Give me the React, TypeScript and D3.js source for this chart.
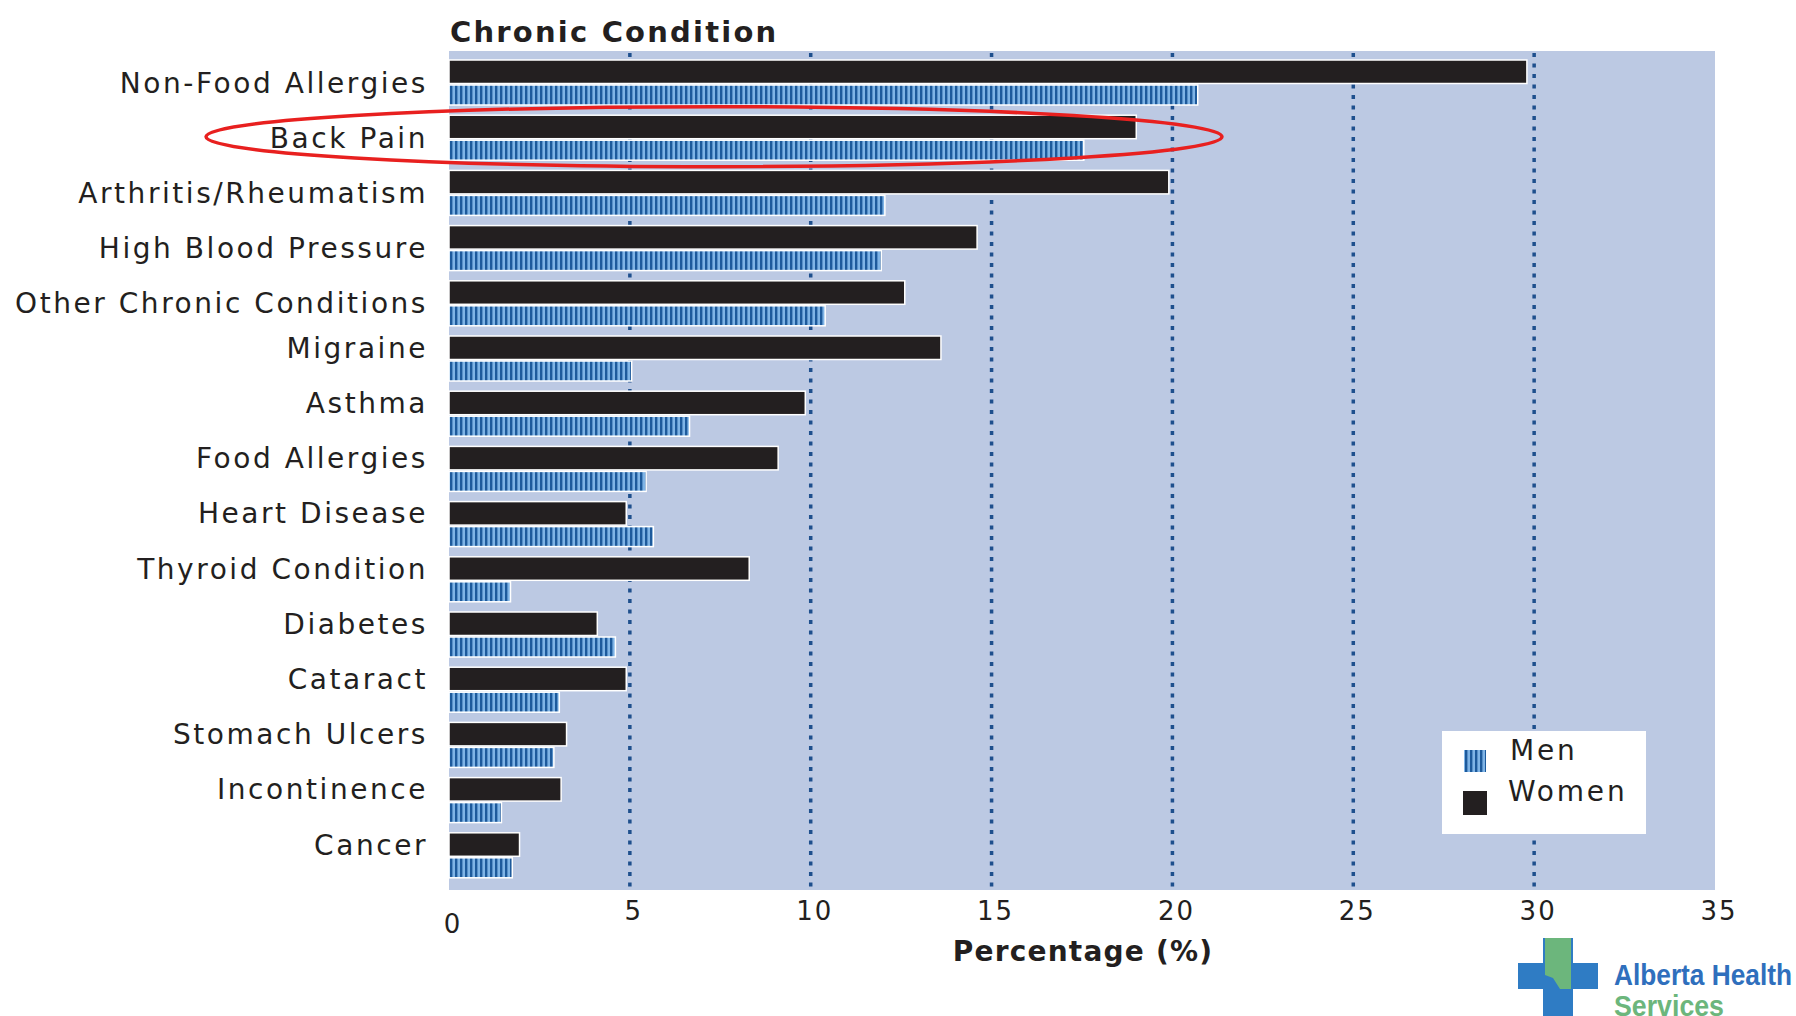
import React from "react";
import * as d3 from "d3";

const categories = [
  "Non-Food Allergies",
  "Back Pain",
  "Arthritis/Rheumatism",
  "High Blood Pressure",
  "Other Chronic Conditions",
  "Migraine",
  "Asthma",
  "Food Allergies",
  "Heart Disease",
  "Thyroid Condition",
  "Diabetes",
  "Cataract",
  "Stomach Ulcers",
  "Incontinence",
  "Cancer",
];
const women = [29.8, 19.0, 19.9, 14.6, 12.6, 13.6, 9.85, 9.1, 4.9, 8.3, 4.1, 4.9, 3.25, 3.1, 1.95];
const men = [20.7, 17.55, 12.05, 11.95, 10.4, 5.05, 6.65, 5.45, 5.65, 1.7, 4.6, 3.05, 2.9, 1.45, 1.75];
const xTicks = [0, 5, 10, 15, 20, 25, 30, 35];
const gridValues = [5, 10, 15, 20, 25, 30];
const highlighted = "Back Pain";

const W = 1796;
const H = 1016;
const plotL = 449;
const plotR = 1715;
const plotT = 51;
const plotB = 890;
const rowStep = 55.2;
const firstRow = 60;

const FONT = "'DejaVu Sans', 'Open Sans', sans-serif";

export default function App() {
  const x = d3.scaleLinear().domain([0, 35]).range([plotL, plotR]);
  const y = d3
    .scaleBand<string>()
    .domain(categories)
    .range([firstRow, firstRow + rowStep * categories.length])
    .padding(0);

  const blackH = 23.5;
  const blueOff = 25;
  const blueH = 20;

  const hy = (y(highlighted) as number) + (blueOff + blueH) / 2;

  return (
    <svg
      width={W}
      height={H}
      viewBox={`0 0 ${W} ${H}`}
      style={{ position: "fixed", left: 0, top: 0, background: "#fff" }}
    >
      <defs>
        <pattern id="stripes" patternUnits="userSpaceOnUse" width="5" height="10">
          <rect x="0" y="0" width="5" height="10" fill="#7fb4e6" />
          <rect x="0" y="0" width="2.4" height="10" fill="#1d5a9c" />
        </pattern>
      </defs>

      <text x={450} y={42} fontFamily={FONT} fontWeight="bold" fontSize={29} fill="#231f20" letterSpacing={2.2}>
        Chronic Condition
      </text>

      <rect x={plotL} y={plotT} width={plotR - plotL} height={plotB - plotT} fill="#bcc9e3" />

      {gridValues.map((g) => (
        <line
          key={g}
          x1={x(g)}
          x2={x(g)}
          y1={plotT + 2}
          y2={plotB}
          stroke="#1e4f8d"
          strokeWidth={3.5}
          strokeDasharray="4 6.5"
        />
      ))}

      {categories.map((c, i) => {
        const y0 = y(c) as number;
        return (
          <g key={c}>
            <rect
              x={x(0)}
              y={y0}
              width={x(women[i]) - x(0)}
              height={blackH}
              fill="#231f20"
              stroke="#fff"
              strokeWidth={1.5}
            />
            <rect
              x={x(0)}
              y={y0 + blueOff}
              width={x(men[i]) - x(0)}
              height={blueH}
              fill="url(#stripes)"
              stroke="#fff"
              strokeWidth={1.5}
            />
            <text
              x={428}
              y={i < 5 ? y0 + (blueOff + blueH) / 2 : y0 + blackH / 2}
              dy="0.36em"
              textAnchor="end"
              fontFamily={FONT}
              fontSize={28}
              fill="#231f20"
              letterSpacing={2.55}
            >
              {c}
            </text>
          </g>
        );
      })}

      {xTicks.map((t) => (
        <text
          key={t}
          x={x(t) + 4}
          y={t === 0 ? 933 : 920}
          textAnchor="middle"
          fontFamily={FONT}
          fontSize={26}
          fill="#231f20"
          letterSpacing={2}
        >
          {t}
        </text>
      ))}

      <text x={1083} y={961} textAnchor="middle" fontFamily={FONT} fontWeight="bold" fontSize={28} fill="#231f20" letterSpacing={1.2}>
        Percentage (%)
      </text>

      <ellipse
        cx={(206 + 1222) / 2}
        cy={hy - 1}
        rx={(1222 - 206) / 2}
        ry={30}
        fill="none"
        stroke="#e8201f"
        strokeWidth={3.5}
      />

      <g>
        <rect x={1442} y={731} width={204} height={103} fill="#fff" />
        <rect x={1464} y={750} width={22} height={22} fill="url(#stripes)" />
        <rect x={1463} y={791} width={24} height={24} fill="#231f20" />
        <text x={1510} y={760} fontFamily={FONT} fontSize={28} fill="#231f20" letterSpacing={2.8}>
          Men
        </text>
        <text x={1508} y={801} fontFamily={FONT} fontSize={28} fill="#231f20" letterSpacing={2.8}>
          Women
        </text>
      </g>

      <g>
        <rect x={1518} y={963} width={80} height={26} fill="#2f7cc4" />
        <rect x={1543} y={938} width={30} height={80} fill="#2f7cc4" />
        <path d="M1545,938 L1571,938 L1571,989 L1560,989 L1553,978 L1545,975 Z" fill="#6cb67c" />
        <text
          x={1614}
          y={985}
          fontFamily="'Liberation Sans Narrow', 'Liberation Sans', sans-serif"
          fontWeight="bold"
          fontSize={30}
          fill="#2f6fbd"
          textLength={178}
          lengthAdjust="spacingAndGlyphs"
        >
          Alberta Health
        </text>
        <text
          x={1614}
          y={1016}
          fontFamily="'Liberation Sans Narrow', 'Liberation Sans', sans-serif"
          fontWeight="bold"
          fontSize={30}
          fill="#6cb67c"
          textLength={110}
          lengthAdjust="spacingAndGlyphs"
        >
          Services
        </text>
      </g>
    </svg>
  );
}
